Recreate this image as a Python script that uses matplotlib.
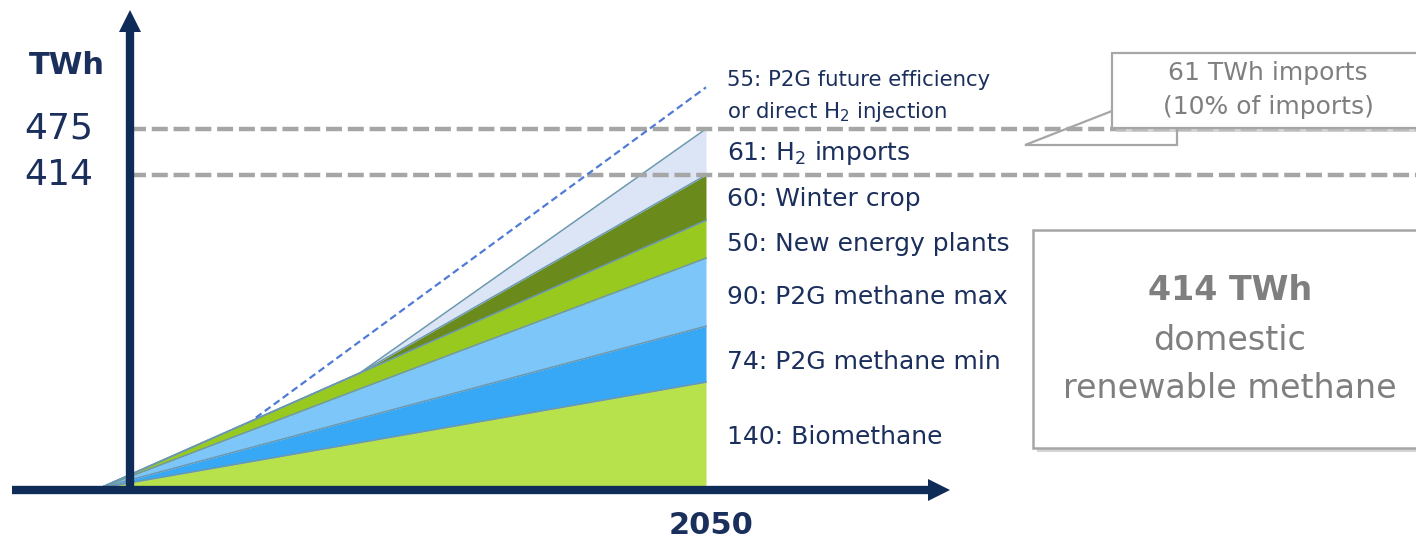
import numpy as np
import matplotlib.pyplot as plt
from matplotlib.patches import Rectangle, Polygon

plt.rcParams['font.family'] = ['DejaVu Sans']
plt.rcParams['mathtext.fontset'] = 'dejavusans'

# Renewable methane potential (TWh), growing towards 2050
years = [2015, 2030, 2050]
biomethane = [0, 60, 140]
p2g_min = [0, 32, 74]
p2g_max = [0, 39, 90]
new_plants = [0, 21, 50]
winter_crop = [0, 0, 60]
h2_imports = [0, 0, 61]

layer_names = ['140: Biomethane', '74: P2G methane min', '90: P2G methane max',
               '50: New energy plants', '60: Winter crop', '61: H$_2$ imports']
layer_colors = ['#b8e24c', '#36a8f6', '#7cc6fa', '#97c91f', '#6a8b1b', '#dbe5f6']
label_shift = [2, 8, 5, 5, 1, 1]  # nudges (px) so labels sit nicely in the bands

# extra potential with better P2G efficiency / direct H2 injection
future_years = [2024, 2050]
future_vals = [93, 530]

domestic_total = 414
grand_total = 475

NAVY = '#0f2b57'
TEXT_NAVY = '#1b2f5c'
GREY = '#a6a6a6'
BOX_TEXT = '#7f7f7f'

W, H = 1416, 545
ppy = 606 / 35      # pixels per year
ppt = 0.756         # pixels per TWh
x0_px, y0_px = 100, 488

fig = plt.figure(figsize=(W / 100, H / 100), dpi=100)
ax = fig.add_axes([0, 0, 1, 1])
ax.set_xlim(years[0] - x0_px / ppy, years[0] + (W - x0_px) / ppy)
ax.set_ylim(-(H - y0_px) / ppt, y0_px / ppt)
ax.axis('off')

# stacked bands
layers = [biomethane, p2g_min, p2g_max, new_plants, winter_crop, h2_imports]
bottom = np.zeros(len(years))
for vals, col in zip(layers, layer_colors):
    top = bottom + np.array(vals)
    ax.fill_between(years, bottom, top, color=col, lw=0, zorder=1)
    bottom = top
bottom = np.zeros(len(years))
for vals in layers:
    top = bottom + np.array(vals)
    ax.plot(years, top, color='#6b98ae', lw=1.1, zorder=2)
    bottom = top

# horizontal reference lines
for lvl in [domestic_total, grand_total]:
    ax.axhline(lvl, xmin=130 / W, xmax=1, color=GREY, lw=3.2,
               dashes=(3.6, 1.3), zorder=3)

ax.plot(future_years, future_vals, color='#4f7bd6', lw=1.6,
        dashes=(3.2, 1.8), zorder=4)

# band labels
ends = np.cumsum([l[-1] for l in layers])
starts = np.concatenate([[0], ends[:-1]])
for name, s, e, dy in zip(layer_names, starts, ends, label_shift):
    ax.annotate(name, xy=(years[-1], (s + e) / 2), xytext=(21, -dy),
                textcoords='offset pixels', ha='left', va='center',
                fontsize=18, color=TEXT_NAVY)
ax.annotate('55: P2G future efficiency\nor direct H$_2$ injection',
            xy=(future_years[-1], future_vals[-1]), xytext=(21, -10),
            textcoords='offset pixels', ha='left', va='center',
            fontsize=15.3, color=TEXT_NAVY, linespacing=1.55)

# y tick values
for lvl in [grand_total, domestic_total]:
    ax.text(93 / W, lvl, str(lvl), transform=ax.get_yaxis_transform(),
            ha='right', va='center', fontsize=26, color=TEXT_NAVY)

# overlay in pixel units for axes arrows and boxes
ov = fig.add_axes([0, 0, 1, 1], facecolor='none')
ov.set_xlim(0, W)
ov.set_ylim(H, 0)
ov.axis('off')

ov.plot([130, 130], [494, 28], color=NAVY, lw=6, solid_capstyle='butt')
ov.plot([130], [20.5], marker='^', ms=16.5, color=NAVY, mew=0)
ov.plot([12, 930], [490, 490], color=NAVY, lw=6, solid_capstyle='butt')
ov.plot([938.5], [490], marker='>', ms=16.5, color=NAVY, mew=0)

ov.text(67, 66, 'TWh', ha='center', va='center', fontsize=22,
        fontweight='bold', color=TEXT_NAVY)
ov.text(711, 526, '2050', ha='center', va='center', fontsize=22,
        fontweight='bold', color=TEXT_NAVY)

# callout for imports
ov.add_patch(Rectangle((1116, 57), 320, 75, facecolor='#c4c4c4', edgecolor='none',
                       alpha=0.7, zorder=5))
ov.add_patch(Rectangle((1112, 53), 320, 75, facecolor='white', edgecolor=GREY,
                       lw=1.6, zorder=6))
ov.add_patch(Polygon([(1112, 111), (1025, 145), (1177, 145), (1177, 128)],
                     closed=False, fill=False, edgecolor=GREY, lw=1.6, zorder=6))
ov.text(1268, 73, '61 TWh imports', ha='center', va='center', fontsize=18,
        color=BOX_TEXT, zorder=7)
ov.text(1268, 107, '(10% of imports)', ha='center', va='center', fontsize=18,
        color=BOX_TEXT, zorder=7)

# domestic total box
ov.add_patch(Rectangle((1037, 234), 400, 218, facecolor='#c4c4c4', edgecolor='none',
                       alpha=0.7, zorder=5))
ov.add_patch(Rectangle((1033, 230), 400, 218, facecolor='white', edgecolor=GREY,
                       lw=1.8, zorder=6))
ov.text(1230, 291, f'{domestic_total} TWh', ha='center', va='center', fontsize=24,
        fontweight='bold', color=BOX_TEXT, zorder=7)
ov.text(1230, 340, 'domestic', ha='center', va='center', fontsize=24,
        color=BOX_TEXT, zorder=7)
ov.text(1230, 388, 'renewable methane', ha='center', va='center', fontsize=24,
        color=BOX_TEXT, zorder=7)

fig.savefig('out.png', dpi=100, facecolor='white')
